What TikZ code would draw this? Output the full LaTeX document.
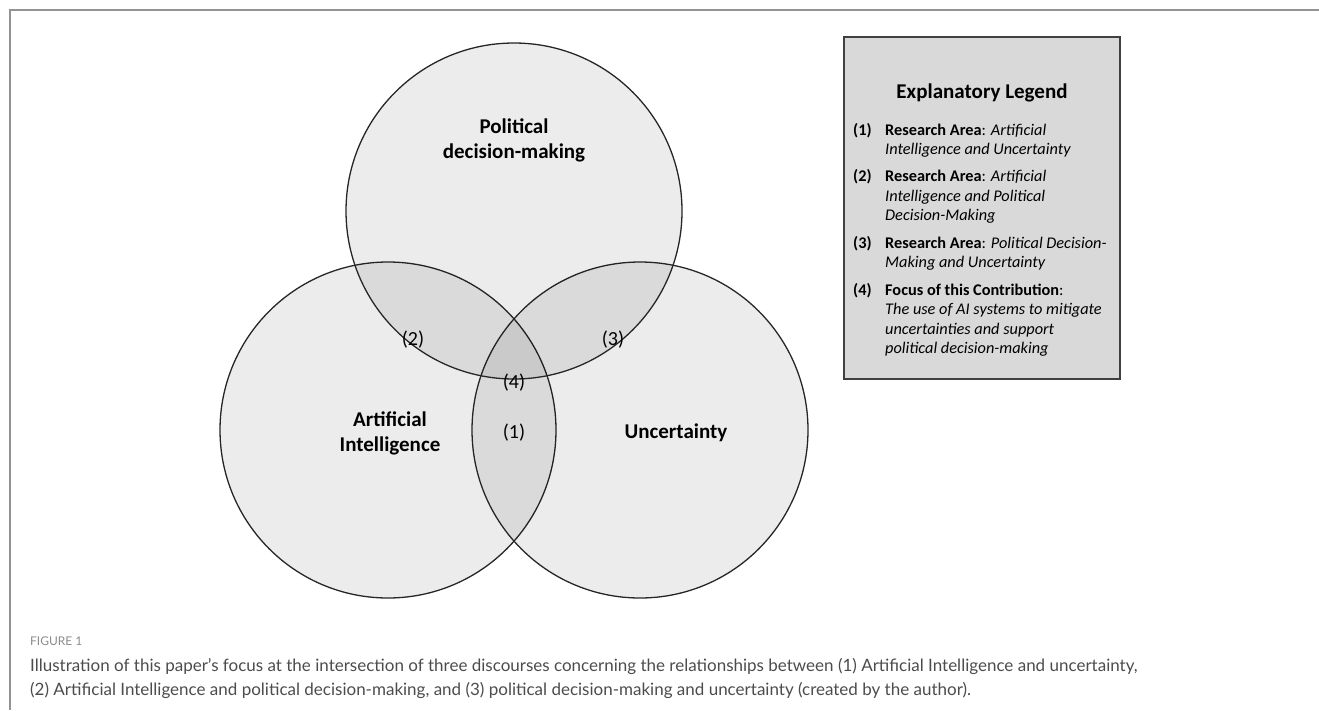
\documentclass[tikz,border=0pt]{standalone}
\usepackage{fontspec}
\setmainfont{Carlito}
\newfontfamily\capfont{Lato}
\usetikzlibrary{positioning}

\begin{document}
\begin{tikzpicture}[x=1pt,y=-1pt,
  venn/.style={circle,draw=black!85,line width=1.3pt,fill=black,fill opacity=0.075,minimum size=336pt,inner sep=0pt},
  topic/.style={font=\fontsize{21}{25}\selectfont\bfseries,align=center},
  num/.style={font=\fontsize{20}{24}\selectfont},
  legbox/.style={draw=black!75,line width=1.5pt,fill=black!15,minimum width=276pt,minimum height=342pt,inner sep=0pt},
  legnum/.style={anchor=base west,inner sep=0pt,font=\fontsize{16.3}{19.5}\selectfont\bfseries},
  legtxt/.style={anchor=base west,inner sep=0pt,align=left,font=\fontsize{16.3}{19.5}\selectfont}]
\useasboundingbox (0,0) rectangle (1319,710);
% frame
\coordinate (fbl) at (10,710); \coordinate (ftl) at (10,10); \coordinate (ftr) at (1319,10);
\draw[gray!85,line width=2pt] (fbl)--(ftl)--(ftr);
% circles
\node[venn] (ai) at (388,430) {};
\node[venn] (unc) at (640,430) {};
\node[venn] (pol) at (514,211) {};
\node[topic] (poltxt) at (514,140) {Political\\decision-making};
\node[topic] (aitxt) at (390,433) {Artificial\\Intelligence};
\node[topic] (unctxt) at (676,433) {Uncertainty};
\node[num] (n2) at (413,340) {(2)};
\node[num] (n3) at (613,340) {(3)};
\node[num] (n4) at (514,383) {(4)};
\node[num] (n1) at (514,433) {(1)};
% legend (multi-line texts sit on the baseline of their last line)
\node[legbox] (legend) at (982,208) {};
\node[anchor=base,inner sep=0pt,font=\fontsize{21}{25}\selectfont\bfseries] (legtitle) at (982,98) {Explanatory Legend};
\node[legnum] (l1) at (853,135) {(1)};
\node[legtxt] (t1) at (885,154.5) {\textbf{Research Area}: \textit{Artificial}\\\textit{Intelligence and Uncertainty}};
\node[legnum] (l2) at (853,181.5) {(2)};
\node[legtxt] (t2) at (885,220.5) {\textbf{Research Area}: \textit{Artificial}\\\textit{Intelligence and Political}\\\textit{Decision-Making}};
\node[legnum] (l3) at (853,248) {(3)};
\node[legtxt] (t3) at (885,267.5) {\textbf{Research Area}: \textit{Political Decision-}\\\textit{Making and Uncertainty}};
\node[legnum] (l4) at (853,295) {(4)};
\node[legtxt] (t4) at (885,353.5) {\textbf{Focus of this Contribution}:\\\textit{The use of AI systems to mitigate}\\\textit{uncertainties and support}\\\textit{political decision-making}};
% caption
\node[anchor=base west,inner sep=0pt,text=gray!90,font=\capfont\fontsize{12}{14}\selectfont] (figno) at (30,645) {FIGURE 1};
\node[anchor=base west,inner sep=0pt,align=left,text=black!70,font=\capfont\fontsize{17}{24}\selectfont] (caption) at (30,695) {Illustration of this paper’s focus at the intersection of three discourses concerning the relationships between (1) Artificial Intelligence and uncertainty,\\(2) Artificial Intelligence and political decision-making, and (3) political decision-making and uncertainty (created by the author).};
\end{tikzpicture}
\end{document}
